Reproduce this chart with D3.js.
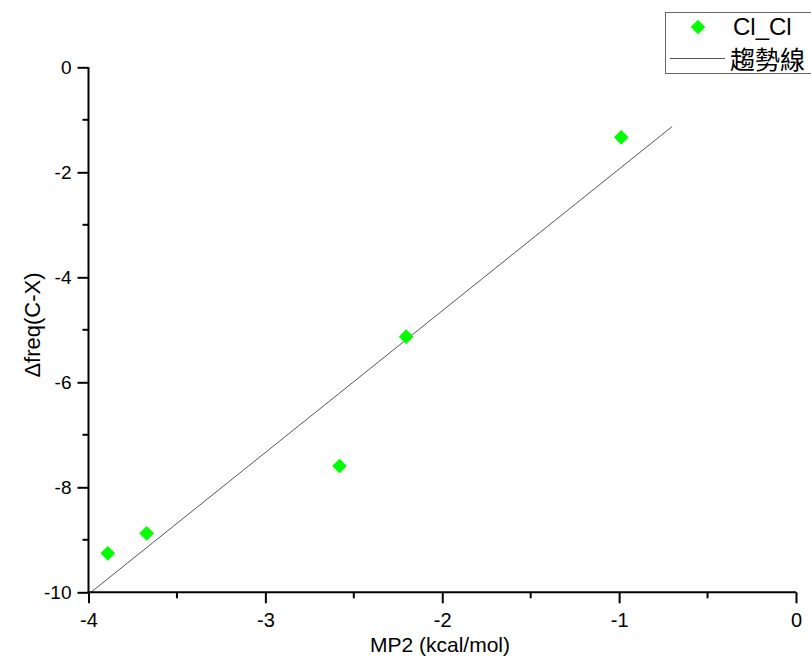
<!DOCTYPE html>
<html>
<head>
<meta charset="utf-8">
<script src="https://cdn.jsdelivr.net/npm/d3@7"></script>
<style>
  html, body { margin: 0; padding: 0; background: #fff; }
  svg { display: block; font-family: "Liberation Sans", Arial, sans-serif; }
</style>
</head>
<body>
<svg id="chart" width="811" height="663"></svg>
<script>
// MP2 interaction energy (kcal/mol) vs. C-X frequency shift
const mp2 = [-3.891, -3.671, -2.581, -2.204, -0.988];
const dfreq = [-9.257, -8.876, -7.594, -5.131, -1.333];
const seriesName = "Cl_Cl";
const trendName = "趨勢線";
const xTicks = [-4, -3, -2, -1, 0];
const yTicks = [0, -2, -4, -6, -8, -10];
const trendExtent = [-4, -0.7];

const svg = d3.select("#chart");
const plotLeft = 88.5, plotRight = 796, plotTop = 67.3, plotBottom = 592.3;

const x = d3.scaleLinear().domain([-4, 0]).range([plotLeft, plotRight]);
const y = d3.scaleLinear().domain([-10, 0]).range([plotBottom, plotTop]);

// least-squares fit for the trend line
const mx = d3.mean(mp2), my = d3.mean(dfreq);
const slope = d3.sum(mp2, (v, i) => (v - mx) * (dfreq[i] - my)) / d3.sum(mp2, v => (v - mx) ** 2);
const intercept = my - slope * mx;

svg.append("clipPath").attr("id", "plot")
  .append("rect").attr("x", plotLeft).attr("y", plotTop)
  .attr("width", plotRight - plotLeft).attr("height", plotBottom - plotTop);

svg.append("line")
  .attr("clip-path", "url(#plot)")
  .attr("x1", x(trendExtent[0])).attr("y1", y(slope * trendExtent[0] + intercept))
  .attr("x2", x(trendExtent[1])).attr("y2", y(slope * trendExtent[1] + intercept))
  .attr("stroke", "#555").attr("stroke-width", 1);

// axes: major ticks with labels, minor ticks between
const minorX = d3.range(-3.5, 0, 1);
const minorY = d3.range(-9, 0, 2);
const plainNum = d => String(d);   // ASCII hyphen for negatives

const xAxis = svg.append("g").attr("transform", `translate(0,${plotBottom})`);
xAxis.call(d3.axisBottom(x).tickValues(xTicks).tickFormat(plainNum).tickSize(11).tickPadding(10));
xAxis.append("g").selectAll("line").data(minorX).join("line")
  .attr("x1", d => x(d)).attr("x2", d => x(d)).attr("y1", 0).attr("y2", 6)
  .attr("stroke", "#000").attr("stroke-width", 2);

const yAxis = svg.append("g").attr("transform", `translate(${plotLeft},0)`);
yAxis.call(d3.axisLeft(y).tickValues(yTicks).tickFormat(plainNum).tickSize(11).tickPadding(6));
yAxis.append("g").selectAll("line").data(minorY).join("line")
  .attr("y1", d => y(d)).attr("y2", d => y(d)).attr("x1", 0).attr("x2", -6)
  .attr("stroke", "#000").attr("stroke-width", 2);

[xAxis, yAxis].forEach(g => {
  g.select(".domain").attr("stroke", "#000").attr("stroke-width", 2)
    .attr("d", g === xAxis ? `M${plotLeft},0H${plotRight}` : `M0,${plotBottom}V${plotTop}`);
  g.selectAll(".tick line").attr("stroke", "#000").attr("stroke-width", 2);
  g.selectAll(".tick text").attr("font-size", g === xAxis ? 20 : 19).attr("fill", "#000")
    .attr("font-family", "'Liberation Sans', Arial, sans-serif");
});

// data markers
const diamond = d3.symbol().type(d3.symbolDiamond2).size(138);
svg.append("g").selectAll("path").data(mp2).join("path")
  .attr("d", diamond)
  .attr("transform", (d, i) => `translate(${x(d)},${y(dfreq[i])})`)
  .attr("fill", "#00ff00");

// axis titles
svg.append("text").attr("x", 440).attr("y", 652).attr("text-anchor", "middle")
  .attr("font-size", 21).text("MP2 (kcal/mol)");
svg.append("text").attr("transform", "translate(40,325) rotate(-90)").attr("text-anchor", "middle")
  .attr("font-size", 22).text("Δfreq(C-X)");

// legend
const lg = svg.append("g");
lg.append("rect").attr("x", 665.5).attr("y", 12.5).attr("width", 160).attr("height", 61)
  .attr("fill", "#fff").attr("stroke", "#666").attr("stroke-width", 1);
lg.append("path").attr("d", diamond).attr("transform", "translate(698,27)").attr("fill", "#00ff00");
lg.append("text").attr("x", 733).attr("y", 35).attr("font-size", 24).text(seriesName);
lg.append("line").attr("x1", 670).attr("x2", 725).attr("y1", 58.5).attr("y2", 58.5)
  .attr("stroke", "#555").attr("stroke-width", 1);
lg.append("text").attr("x", 730).attr("y", 69).attr("font-size", 25)
  .attr("font-family", "'Noto Sans CJK TC', sans-serif").text(trendName);
</script>
</body>
</html>
